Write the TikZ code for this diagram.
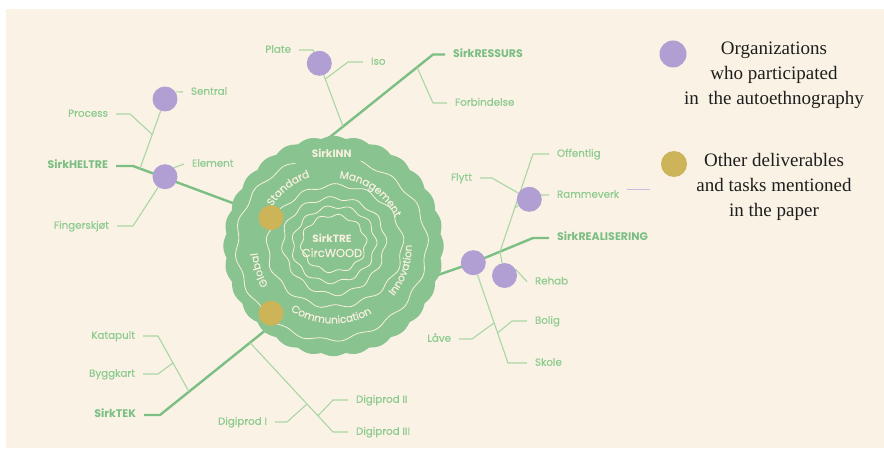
\documentclass[tikz,border=0pt]{standalone}
\usepackage{fontspec}
\setmainfont{Liberation Serif}
\newfontfamily\popp{Poppins}
\newfontfamily\poppm[FakeBold=0.35]{Poppins}
\usetikzlibrary{calc,decorations.text}
\definecolor{bgc}{HTML}{FAF3E5}
\definecolor{blobc}{HTML}{89C38F}
\definecolor{mainc}{HTML}{7CBF84}
\definecolor{thinc}{HTML}{A9D6A5}
\definecolor{lblc}{HTML}{8ECB90}
\definecolor{blblc}{HTML}{7BBE83}
\definecolor{purp}{HTML}{B19FD3}
\definecolor{goldc}{HTML}{CDB458}
\definecolor{cream}{HTML}{F8F0DE}
\definecolor{ink}{HTML}{1E1E1E}
\newcommand\blobtf{\poppm\fontsize{10.5}{12}\selectfont}
\pgfdeclarelayer{backl}
\pgfdeclarelayer{linel}
\pgfdeclarelayer{blobl}
\pgfsetlayers{backl,linel,blobl,main}
\begin{document}
\begin{tikzpicture}[x=1pt,y=1pt,
  lbl/.style={font=\poppm\fontsize{10.3}{12}\selectfont, text=lblc, inner sep=0pt, outer xsep=8pt, outer ysep=0pt, text height=7.5pt, text depth=2pt},
  blbl/.style={lbl, font=\popp\bfseries\fontsize{11}{12}\selectfont, text=blblc},
  org/.style={circle, fill=purp, minimum size=25pt, inner sep=0pt},
  oth/.style={circle, fill=goldc, minimum size=25pt, inner sep=0pt},
  mainl/.style={draw=mainc, line width=2.4pt, line join=round},
  thinl/.style={draw=thinc, line width=1.1pt, line join=round},
  ringl/.style={draw=cream, line width=0.8pt, line join=round},
  blobt/.style={text=cream, inner sep=0pt},
  legend/.style={align=center, font=\fontsize{19}{25}\selectfont, text=ink, inner sep=0pt},
  curvt/.style={decorate, decoration={text along path, text align=center, text color=cream}}
]
\useasboundingbox (0,0) rectangle (884,448);
\begin{pgfonlayer}{backl}
\fill[white] (0,0) rectangle (884,448);
\fill[bgc] (6,0) rectangle (884,439);
\end{pgfonlayer}

\coordinate (C) at (333.5,202);
\coordinate (bR) at (325,307);
\coordinate (bH) at (235.6,243.9);
\coordinate (bT) at (267,119);
\coordinate (bRe) at (433,171.3);

% dots
\node[org] (dSentral) at (165,349) {};
\node[org] (dElement) at (165,271.3) {};
\node[org] (dPlate) at (319.3,384.7) {};
\node[org] (dRamme) at (529.3,248.7) {};
\node[org] (dReal) at (473.3,185.3) {};
\node[org] (dRehab) at (504.5,172.5) {};
\node[oth] (gA) at (271,230.3) {};
\node[oth] (gB) at (271,134.7) {};

% labels
\node[lbl, anchor=east] (Plate) at (299,398) {Plate};
\node[lbl, anchor=east] (Process) at (116,334) {Process};
\node[blbl, anchor=east] (SirkHELTRE) at (116,282) {SirkHELTRE};
\node[lbl, anchor=east] (Finger) at (117,222) {Fingerskjøt};
\node[lbl, anchor=east] (Katapult) at (143,112) {Katapult};
\node[lbl, anchor=east] (Byggkart) at (143,74) {Byggkart};
\node[blbl, anchor=east] (SirkTEK) at (144,33) {SirkTEK};
\node[lbl, anchor=east] (DigiI) at (275,26) {Digiprod I};
\node[lbl, anchor=east] (Lave) at (459,109) {Låve};
\node[lbl, anchor=east] (Flytt) at (480,270) {Flytt};
\node[lbl, anchor=west] (Iso) at (363,386) {Iso};
\node[blbl, anchor=west] (SirkRESSURS) at (445,393.5) {SirkRESSURS};
\node[lbl, anchor=west] (Forb) at (447,345) {Forbindelse};
\node[lbl, anchor=west] (Sentral) at (183,356) {Sentral};
\node[lbl, anchor=west] (Element) at (184,284) {Element};
\node[lbl, anchor=west] (Offentlig) at (549,294) {Offentlig};
\node[lbl, anchor=west] (Ramme) at (549,253) {Rammeverk};
\node[blbl, anchor=west] (SirkREAL) at (549,210) {SirkREALISERING};
\node[lbl, anchor=west] (Rehab) at (527,166.3) {Rehab};
\node[lbl, anchor=west] (Bolig) at (527,127) {Bolig};
\node[lbl, anchor=west] (Skole) at (527,85) {Skole};
\node[lbl, anchor=west] (DigiII) at (348,48) {Digiprod II};
\node[lbl, anchor=west] (DigiIII) at (348,16) {Digiprod III};

% legend
\node[org, minimum size=27pt] (lgP) at (673,394) {};
\node[oth, minimum size=26pt] (lgG) at (674,284) {};
\node[legend] (lgPt) at (774,373) {Organizations\\who participated\\in\ \ the autoethnography};
\node[legend] (lgGt) at (774,261) {Other deliverables\\and tasks mentioned\\in the paper};

% connectors
\begin{pgfonlayer}{linel}
\coordinate (kH) at (133,282);
\draw[mainl] (SirkHELTRE.east) -- (kH) -- (bH);
\coordinate (jH) at ($(kH)!0.068!(bH)$);
\draw[thinl] (dSentral) -- (jH);
\coordinate (jP) at ($(jH)!0.49!(dSentral)$);
\draw[thinl] (Process.east) -- (130,334) -- (jP);
\draw[thinl] (dSentral.34) -- (Sentral.west);
\draw[thinl] (dElement.45) -- (Element.west);
\draw[thinl] (Finger.east) -- (133,222) -- (dElement);

\coordinate (kR) at (433,393.5);
\draw[mainl] (bR) -- (kR) -- (SirkRESSURS.west);
\coordinate (jR1) at ($(bR)!0.167!(kR)$);
\draw[thinl] (dPlate) -- (jR1);
\draw[thinl] (Plate.east) -- (313,398) -- (dPlate);
\coordinate (jI) at ($(dPlate)!0.25!(jR1)$);
\draw[thinl] (Iso.west) -- (348,386) -- (jI);
\coordinate (jF) at ($(bR)!0.852!(kR)$);
\draw[thinl] (jF) -- (433,345) -- (Forb.west);

\coordinate (kRe) at (533,210);
\draw[mainl] (bRe) -- (dReal.center) -- (kRe) -- (SirkREAL.west);
\coordinate (kO) at (533,294);
\coordinate (jS) at ($(dReal)!0.447!(kRe)$);
\draw[thinl] (Offentlig.west) -- (kO) -- (jS) -- (dRehab);
\coordinate (jRm) at ($(jS)!0.45!(kO)$);
\draw[thinl] (jRm) -- (dRamme);
\draw[thinl] (Flytt.east) -- (492,270) -- (dRamme);
\draw[thinl] (dRamme.20) -- (Ramme.west);
\draw[thinl] (dRehab.30) -- (Rehab.west);
\coordinate (kS) at (508,85);
\draw[thinl] (dReal) -- (kS) -- (Skole.west);
\coordinate (jB) at ($(dReal)!0.70!(kS)$);
\draw[thinl] (Bolig.west) -- (512,127) -- (jB);
\coordinate (jL) at ($(dReal)!0.60!(kS)$);
\draw[thinl] (Lave.east) -- (472,109) -- (jL);

\coordinate (kT) at (160,33);
\draw[mainl] (SirkTEK.east) -- (kT) -- (bT);
\coordinate (jK) at ($(kT)!0.271!(bT)$);
\coordinate (kK) at (158,112);
\draw[thinl] (Katapult.east) -- (kK) -- (jK);
\coordinate (jBy) at ($(kK)!0.484!(jK)$);
\draw[thinl] (Byggkart.east) -- (158,74) -- (jBy);
\coordinate (jD) at ($(kT)!0.841!(bT)$);
\coordinate (kD) at (333,16);
\draw[thinl] (jD) -- (kD) -- (DigiIII.west);
\coordinate (jD2) at ($(jD)!0.819!(kD)$);
\draw[thinl] (DigiII.west) -- (333,48) -- (jD2);
\coordinate (jD1) at ($(jD)!0.687!(kD)$);
\draw[thinl] (DigiI.east) -- (287,26) -- (jD1);

\coordinate (s1) at (627,259);
\coordinate (s2) at (650,259);
\draw[purp!70, line width=0.6pt] (s1) -- (s2);
\end{pgfonlayer}

% blob
\begin{pgfonlayer}{blobl}
\fill[blobc, shift={(C)}] plot[domain=0:360, samples=721]
  ({(107.6+2.6*abs(cos(14*\x)))*cos(\x)}, {(107.6+2.6*abs(cos(14*\x)))*sin(\x)}) -- cycle;
\draw[ringl] plot[domain=112:432, samples=220, smooth]
  ({331+(95+1.8*sin(16*\x)+1.2*sin(3*\x+40))*cos(\x)}, {200+(91+1.8*sin(16*\x)+1.2*sin(3*\x+40))*sin(\x)});
\draw[ringl] plot[domain=0:360, samples=220, smooth]
  ({335+(66+1.8*sin(13*\x)+1.5*sin(2*\x+70))*cos(\x)}, {202+(62+1.8*sin(13*\x)+1.5*sin(2*\x+70))*sin(\x)});
\draw[ringl] plot[domain=0:360, samples=220, smooth]
  ({334+(51+1.7*sin(12*\x+30)+1.2*sin(3*\x))*cos(\x)}, {203+(48+1.7*sin(12*\x+30)+1.2*sin(3*\x))*sin(\x)});
\draw[ringl] plot[domain=0:360, samples=220, smooth]
  ({334+(41+1.6*sin(11*\x+60)+1*sin(2*\x+20))*cos(\x)}, {203.5+(38+1.6*sin(11*\x+60)+1*sin(2*\x+20))*sin(\x)});
\draw[ringl] plot[domain=0:360, samples=220, smooth]
  ({333.7+(32+1.5*sin(10*\x+10))*cos(\x)}, {204.5+(28+1.5*sin(10*\x+10))*sin(\x)});
\end{pgfonlayer}

% blob texts
\node[blobt, font=\popp\bfseries\fontsize{10.6}{12}\selectfont] (sinn) at (331.7,295) {SirkINN};
\node[blobt, font=\popp\bfseries\fontsize{10.5}{12}\selectfont] (stre) at (332,210) {SirkTRE};
\node[blobt, font=\poppm\fontsize{11.5}{12}\selectfont] (cwood) at (332,195.3) {CircWOOD};

\path[curvt, decoration={text={|\blobtf|Standard}}] ($(C)+(178:73)$) arc[start angle=178, end angle=78, radius=73];
\path[curvt, decoration={text={|\blobtf|Management}}] ($(C)+(110:68)$) arc[start angle=110, end angle=0, radius=68];
\path[curvt, decoration={text={|\blobtf|Global}}] ($(C)+(240:76)$) arc[start angle=240, end angle=156, radius=76];
\path[curvt, decoration={text={|\blobtf|Innovation}}] ($(C)+(-75:78.3)$) arc[start angle=-75, end angle=36, radius=78.3];
\path[curvt, decoration={text={|\blobtf|Communication}}] ($(C)+(-155:77.5)$) arc[start angle=-155, end angle=-29, radius=77.5];
\end{tikzpicture}
\end{document}
